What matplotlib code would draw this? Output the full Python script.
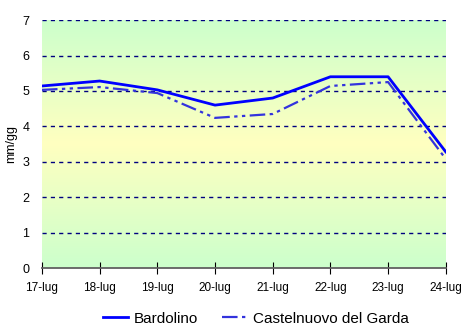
import numpy as np
import matplotlib
matplotlib.use("Agg")
import matplotlib.pyplot as plt
from matplotlib.colors import LinearSegmentedColormap

days = ["17-lug", "18-lug", "19-lug", "20-lug", "21-lug", "22-lug", "23-lug", "24-lug"]
bardolino = [5.14, 5.28, 5.03, 4.60, 4.80, 5.40, 5.40, 3.28]
castelnuovo = [5.03, 5.11, 4.94, 4.24, 4.35, 5.14, 5.25, 3.08]
y_ticks = [0, 1, 2, 3, 4, 5, 6, 7]

plt.rcParams['font.family'] = ['Liberation Sans', 'DejaVu Sans']

fig = plt.figure(figsize=(4.61, 3.29), dpi=100)
ax = fig.add_axes([0.091, 0.185, 0.876, 0.754])

x = np.arange(len(days))
ax.set_xlim(0, len(days) - 1)
ax.set_ylim(0, 7)

# vertical background gradient: green - yellow - green
cmap = LinearSegmentedColormap.from_list(
    "bg", [(0.0, "#ccffcc"), (0.5, "#ffffc0"), (1.0, "#ccffcc")])
grad = np.linspace(0, 1, 256).reshape(-1, 1)
ax.imshow(grad, extent=[0, len(days) - 1, 0, 7], origin="lower",
          aspect="auto", cmap=cmap, zorder=0)

for yv in y_ticks[1:]:
    ax.axhline(yv, color="#000080", linestyle=(0, (3, 3)), linewidth=1.0, zorder=1)

ax.plot(x, bardolino, color="#0000ff", linewidth=2.0, label="Bardolino", zorder=3)
ax.plot(x, castelnuovo, color="#3333dd", linewidth=1.6,
        linestyle=(0, (7, 2, 1.5, 2, 1.5, 2)), label="Castelnuovo del Garda", zorder=3)

for s in ["top", "right", "left"]:
    ax.spines[s].set_visible(False)
ax.spines["bottom"].set_color("#606060")
ax.spines["bottom"].set_linewidth(1.3)
ax.spines["bottom"].set_zorder(4)

ax.set_xticks(x)
ax.set_xticklabels(days, fontsize=8.5)
ax.set_yticks(y_ticks)
ax.set_yticklabels([str(v) for v in y_ticks], fontsize=9)
ax.tick_params(axis="x", direction="inout", length=8, color="#000000", pad=6)
ax.tick_params(axis="y", length=0, pad=9)
ax.set_ylabel("mm/gg", fontsize=9, labelpad=4)

ax.legend(loc="upper center", bbox_to_anchor=(0.53, -0.12), ncol=2, frameon=False,
          fontsize=11, handlelength=1.6, columnspacing=1.6, handletextpad=0.4)

fig.savefig("out.png", dpi=100)
